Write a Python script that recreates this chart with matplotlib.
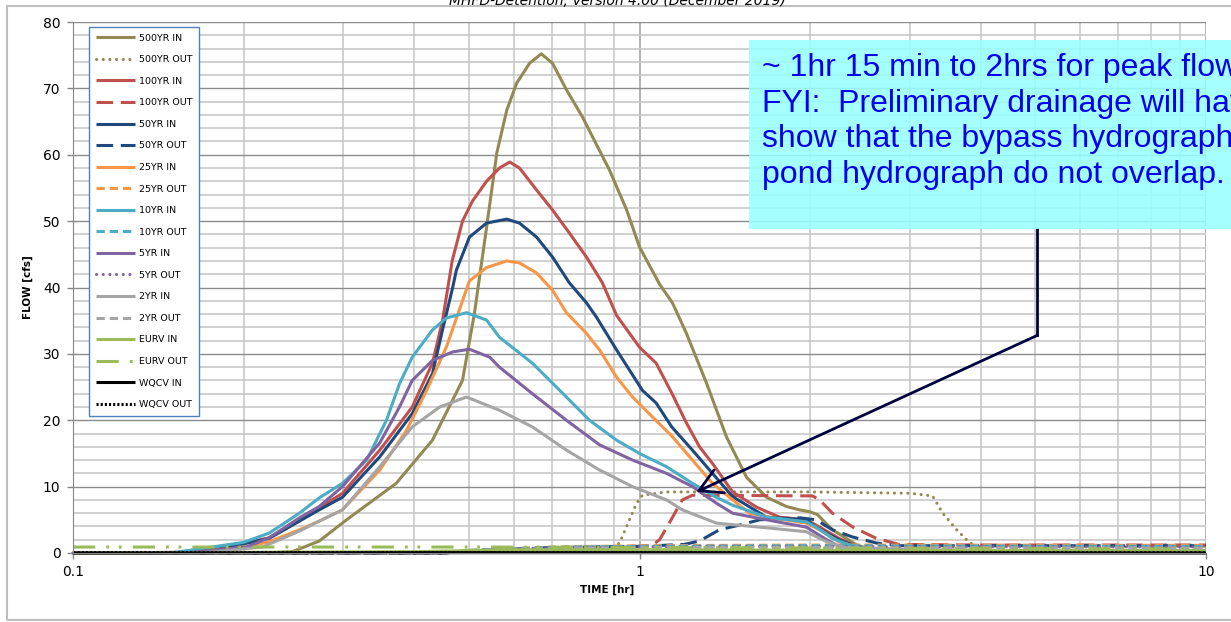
import matplotlib

matplotlib.use("Agg")
import matplotlib.pyplot as plt
from matplotlib.patches import Rectangle
from matplotlib.ticker import FixedLocator, MultipleLocator, NullFormatter

plt.rcParams["font.family"] = ["DejaVu Sans"]
plt.rcParams["lines.scale_dashes"] = False

# inflow hydrographs: time [hr], flow [cfs]
t_500_in = [0.10, 0.22, 0.244, 0.272, 0.304, 0.372, 0.431, 0.487, 0.511, 0.537, 0.56, 0.583, 0.607, 0.64, 0.671,
            0.702, 0.743, 0.793, 0.885, 0.949, 1.0, 1.085, 1.143, 1.21, 1.313, 1.424, 1.545, 1.676, 1.818, 1.916,
            2.0, 2.06, 2.19, 2.42, 2.52, 3.0, 10.0]
q_500_in = [0.0, 0.0, 0.2, 1.8, 5.0, 10.5, 17.0, 26.0, 36.0, 49.0, 60.3, 66.7, 70.8, 73.8, 75.2,
            73.8, 69.8, 65.7, 57.7, 51.7, 46.1, 40.5, 37.7, 33.1, 25.6, 17.5, 11.4, 8.4, 7.0, 6.5,
            6.2, 5.8, 3.5, 1.2, 0.75, 0.4, 0.3]

t_100_in = [0.10, 0.16, 0.181, 0.222, 0.251, 0.272, 0.299, 0.348, 0.397, 0.431, 0.449, 0.467, 0.487, 0.507, 0.537,
            0.566, 0.59, 0.614, 0.658, 0.702, 0.752, 0.806, 0.86, 0.911, 1.0, 1.07, 1.14, 1.21, 1.276, 1.345,
            1.46, 1.61, 1.766, 1.97, 2.08, 2.25, 2.45, 3.0, 10.0]
q_100_in = [0.0, 0.1, 0.6, 2.3, 5.0, 6.8, 9.0, 15.5, 22.0, 28.6, 35.0, 44.0, 50.0, 53.0, 56.0,
            58.0, 58.9, 58.0, 54.7, 51.7, 48.2, 44.6, 40.7, 35.8, 31.0, 28.6, 24.1, 19.6, 16.0, 13.5,
            9.2, 6.9, 5.4, 5.0, 3.9, 2.2, 0.75, 0.4, 0.3]

t_50_in = [0.10, 0.16, 0.181, 0.222, 0.251, 0.272, 0.299, 0.348, 0.397, 0.431, 0.449, 0.468, 0.475, 0.501, 0.537,
           0.583, 0.614, 0.658, 0.702, 0.752, 0.806, 0.84, 0.911, 1.012, 1.07, 1.14, 1.24, 1.345, 1.46, 1.676,
           1.97, 2.05, 2.25, 2.45, 3.0, 10.0]
q_50_in = [0.0, 0.1, 0.6, 2.2, 4.8, 6.5, 8.4, 14.5, 21.0, 27.0, 33.6, 40.0, 42.6, 47.6, 49.7,
           50.3, 49.7, 47.6, 44.6, 40.7, 37.7, 35.5, 30.6, 24.5, 22.6, 19.0, 15.5, 12.0, 8.5, 5.4,
           5.0, 3.9, 2.0, 0.75, 0.4, 0.3]

t_25_in = [0.10, 0.16, 0.2024, 0.222, 0.251, 0.272, 0.299, 0.348, 0.388, 0.421, 0.456, 0.487, 0.501, 0.537, 0.583,
           0.614, 0.658, 0.702, 0.743, 0.806, 0.85, 0.911, 0.972, 1.054, 1.144, 1.24, 1.345, 1.46, 1.564, 1.717,
           1.97, 2.08, 2.25, 2.45, 3.0, 10.0]
q_25_in = [0.0, 0.05, 0.9, 1.7, 3.5, 4.8, 6.5, 12.5, 18.5, 24.5, 31.0, 38.0, 41.0, 43.0, 44.0,
           43.7, 42.2, 39.6, 36.2, 33.1, 30.6, 26.5, 23.5, 20.5, 17.5, 14.0, 10.5, 8.0, 6.0, 5.3,
           4.5, 3.5, 1.7, 0.75, 0.4, 0.3]

t_10_in = [0.10, 0.15, 0.176, 0.2, 0.222, 0.251, 0.272, 0.299, 0.33, 0.3575, 0.377, 0.397, 0.431, 0.456, 0.495,
           0.537, 0.566, 0.647, 0.743, 0.816, 0.911, 1.0, 1.116, 1.24, 1.367, 1.46, 1.676, 1.97, 2.05, 2.19,
           2.35, 2.52, 3.0, 10.0]
q_10_in = [0.0, 0.05, 0.9, 1.6, 3.0, 6.0, 8.3, 10.5, 14.0, 20.0, 25.5, 29.5, 33.6, 35.4, 36.2,
           35.1, 32.5, 28.6, 23.5, 20.0, 17.0, 15.0, 13.0, 10.5, 8.4, 7.2, 5.4, 4.7, 3.9, 2.2,
           1.2, 0.7, 0.4, 0.3]

t_5_in = [0.10, 0.16, 0.2024, 0.222, 0.251, 0.272, 0.299, 0.348, 0.377, 0.397, 0.431, 0.468, 0.501, 0.544, 0.566,
          0.647, 0.743, 0.85, 0.972, 1.116, 1.24, 1.367, 1.46, 1.676, 1.97, 2.14, 2.25, 2.45, 3.0, 10.0]
q_5_in = [0.0, 0.05, 0.9, 2.3, 5.3, 7.0, 10.0, 16.6, 22.0, 26.0, 29.0, 30.3, 30.7, 29.5, 28.0,
          24.0, 20.0, 16.3, 14.0, 12.0, 10.0, 7.5, 6.0, 5.0, 3.9, 2.0, 1.0, 0.4, 0.3, 0.3]

t_2_in = [0.10, 0.17, 0.216, 0.251, 0.272, 0.299, 0.348, 0.397, 0.444, 0.495, 0.566, 0.647, 0.743, 0.85, 0.972,
          1.116, 1.19, 1.367, 1.676, 1.97, 2.14, 2.32, 3.0, 10.0]
q_2_in = [0.0, 0.05, 0.9, 3.3, 4.8, 6.5, 13.0, 19.0, 22.0, 23.5, 21.5, 19.0, 15.5, 12.5, 10.0,
          8.0, 6.5, 4.5, 3.8, 3.2, 1.7, 0.75, 0.4, 0.3]

t_eurv_in = [0.10, 0.4, 0.6, 1.0, 2.5, 10.0]
q_eurv_in = [0.0, 0.2, 0.5, 0.5, 0.4, 0.3]

t_wqcv_in = [0.10, 0.5, 1.0, 10.0]
q_wqcv_in = [0.0, 0.05, 0.05, 0.0]

# outflow hydrographs
t_500_out = [0.10, 0.45, 0.5, 0.7, 0.9, 0.922, 0.96, 0.988, 1.012, 1.116, 2.0, 3.0, 3.29, 3.43, 3.63, 3.83, 4.03,
             5.0, 10.0]
q_500_out = [0.0, 0.0, 0.3, 0.8, 0.9, 1.5, 5.0, 7.5, 8.7, 9.2, 9.2, 9.0, 8.6, 6.0, 3.5, 1.5, 0.9,
             1.0, 1.0]

t_100_out = [0.10, 0.45, 0.5, 0.7, 1.0, 1.05, 1.085, 1.144, 1.19, 1.24, 2.02, 2.08, 2.19, 2.38, 2.62, 2.87, 4.0, 10.0]
q_100_out = [0.0, 0.0, 0.3, 0.8, 1.0, 1.1, 2.0, 5.4, 8.0, 8.7, 8.6, 8.0, 6.0, 3.9, 2.2, 1.3, 1.2, 1.2]

t_50_out = [0.10, 0.45, 0.5, 0.7, 1.0, 1.2, 1.276, 1.313, 1.384, 1.5, 1.63, 1.92, 2.05, 2.19, 2.38, 2.62, 2.87,
            4.0, 10.0]
q_50_out = [0.0, 0.0, 0.3, 0.8, 1.0, 1.3, 1.8, 2.4, 3.5, 4.2, 5.0, 5.3, 5.0, 3.5, 2.4, 1.5, 1.1,
            1.1, 1.1]

t_small_out = [0.10, 0.45, 0.5, 0.7, 1.0, 2.0, 3.0, 10.0]
q_25_out = [0.0, 0.0, 0.4, 0.9, 1.1, 1.2, 1.2, 1.15]
q_10_out = [0.0, 0.0, 0.4, 0.85, 1.0, 1.1, 1.05, 1.0]
q_5_out = [0.0, 0.0, 0.35, 0.8, 0.95, 1.0, 0.95, 0.9]
q_2_out = [0.0, 0.0, 0.3, 0.7, 0.85, 0.85, 0.8, 0.75]

t_eurv_out = [0.10, 0.5, 1.0, 2.0, 10.0]
q_eurv_out = [0.9, 0.9, 0.85, 0.75, 0.6]

t_wqcv_out = [0.10, 10.0]
q_wqcv_out = [0.15, 0.15]

labels = ["500YR IN", "500YR OUT", "100YR IN", "100YR OUT", "50YR IN", "50YR OUT",
          "25YR IN", "25YR OUT", "10YR IN", "10YR OUT", "5YR IN", "5YR OUT",
          "2YR IN", "2YR OUT", "EURV IN", "EURV OUT", "WQCV IN", "WQCV OUT"]

OLIVE, RED, NAVY, ORANGE = "#938953", "#C0504D", "#1F497D", "#F79646"
CYAN, PURPLE, GRAY, GREEN = "#4BACC6", "#8064A2", "#A5A5A5", "#9BBB59"

ROUND_DOT = dict(dashes=(0.1, 4.7), dash_capstyle="round")
LONG_DASH = dict(dashes=(12, 5.5), dash_capstyle="butt")
SHORT_DASH = dict(dashes=(6, 3.5), dash_capstyle="butt")
DASH_DOT_DOT = dict(dashes=(16, 8, 2, 7, 2, 8), dash_capstyle="butt")
FINE_DOT = dict(dashes=(1.5, 1.5), dash_capstyle="butt")

series = [
    (t_500_in, q_500_in, OLIVE, {}),
    (t_500_out, q_500_out, OLIVE, ROUND_DOT),
    (t_100_in, q_100_in, RED, {}),
    (t_100_out, q_100_out, RED, LONG_DASH),
    (t_50_in, q_50_in, NAVY, {}),
    (t_50_out, q_50_out, NAVY, LONG_DASH),
    (t_25_in, q_25_in, ORANGE, {}),
    (t_small_out, q_25_out, ORANGE, SHORT_DASH),
    (t_10_in, q_10_in, CYAN, {}),
    (t_small_out, q_10_out, CYAN, SHORT_DASH),
    (t_5_in, q_5_in, PURPLE, {}),
    (t_small_out, q_5_out, PURPLE, ROUND_DOT),
    (t_2_in, q_2_in, GRAY, {}),
    (t_small_out, q_2_out, GRAY, SHORT_DASH),
    (t_eurv_in, q_eurv_in, GREEN, {}),
    (t_eurv_out, q_eurv_out, GREEN, DASH_DOT_DOT),
    (t_wqcv_in, q_wqcv_in, "black", {}),
    (t_wqcv_out, q_wqcv_out, "black", FINE_DOT),
]

W, H = 1231, 622
fig = plt.figure(figsize=(W / 100, H / 100), dpi=100)
ax = fig.add_axes([73 / W, 1 - 553 / H, (1206 - 73) / W, (553 - 22) / H])

handles = []
for (t, q, color, style), label in zip(series, labels):
    (ln,) = ax.plot(t, q, color=color, lw=2.2, label=label, clip_on=False,
                    solid_joinstyle="round", solid_capstyle="butt", **style)
    handles.append(ln)

ax.set_xscale("log")
ax.set_xlim(0.1, 10)
ax.set_ylim(0, 80)
ax.xaxis.set_major_locator(FixedLocator([0.1, 1, 10]))
ax.set_xticklabels(["0.1", "1", "10"])
ax.xaxis.set_minor_locator(FixedLocator([m * d for d in (0.1, 1) for m in range(2, 10)]))
ax.xaxis.set_minor_formatter(NullFormatter())
ax.yaxis.set_major_locator(MultipleLocator(10))
ax.yaxis.set_minor_locator(MultipleLocator(2))

ax.grid(True, which="major", axis="y", color="#8C8C8C", lw=1.0)
ax.grid(True, which="minor", axis="y", color="#C8C8C8", lw=1.2)
ax.grid(True, which="major", axis="x", color="#A6A6A6", lw=1.2)
ax.grid(True, which="minor", axis="x", color="#C8C8C8", lw=1.2)
ax.set_axisbelow(True)

for side in ("top", "right"):
    ax.spines[side].set_visible(False)
for side in ("left", "bottom"):
    ax.spines[side].set_color("#868686")
ax.tick_params(which="major", length=4, width=1, color="#868686", pad=5, labelsize=10)
ax.tick_params(which="minor", length=0)

ax.set_ylabel("FLOW [cfs]", fontsize=7.5, fontweight="bold")
ax.yaxis.set_label_coords((33 - 73) / (1206 - 73), 0.5)
ax.set_xlabel("TIME [hr]", fontsize=7.5, fontweight="bold")
ax.xaxis.set_label_coords((607 - 73) / (1206 - 73), (553 - 590) / (553 - 22))
ax.xaxis.label.set_verticalalignment("center")

leg = ax.legend(handles=handles, loc="upper left", bbox_to_anchor=((89 - 73) / 1133, (553 - 27) / 531),
                fontsize=6.8, handlelength=4.2, handletextpad=0.35, labelspacing=1.33,
                borderpad=0.7, borderaxespad=0, fancybox=False, framealpha=1)
leg.get_frame().set_edgecolor("#4F81BD")
leg.get_frame().set_linewidth(1.0)

# outer chart border
fig.patches.append(Rectangle((7 / W, 1 - 620 / H), 1.2, (620 - 6) / H, transform=fig.transFigure,
                             fill=False, edgecolor="#BFBFBF", lw=1.5, zorder=0))

fig.text(617 / W, 1 - 5 / H, "MHFD-Detention, Version 4.00 (December 2019)", ha="center", va="baseline",
         fontsize=10, style="italic")

# callout box
fig.patches.append(Rectangle((749 / W, 1 - 229 / H), 0.5, (229 - 40) / H, transform=fig.transFigure,
                             facecolor="#99FFFF", alpha=0.88, edgecolor="none", zorder=3))
note = ("~ 1hr 15 min to 2hrs for peak flow\n"
        "FYI:  Preliminary drainage will have to\n"
        "show that the bypass hydrograph and\n"
        "pond hydrograph do not overlap.")
fig.text(762 / W, 1 - 53 / H, note, ha="left", va="top", color="#0000EE", fontsize=23,
         family="Liberation Sans", linespacing=1.25, zorder=4)

# leader line from the callout to the peak-outflow plateau
ARROW_COLOR = "#00003F"
ax.plot([5.04, 5.04], [48.8, 32.8], color=ARROW_COLOR, lw=2.0, clip_on=False, zorder=5)
ax.annotate("", xy=(1.26, 9.2), xytext=(5.04, 32.8),
            arrowprops=dict(arrowstyle="->,head_length=0.8,head_width=0.45", color=ARROW_COLOR,
                            lw=2.0, mutation_scale=20, shrinkA=0, shrinkB=0), zorder=5)

fig.savefig("out.png", dpi=100)
